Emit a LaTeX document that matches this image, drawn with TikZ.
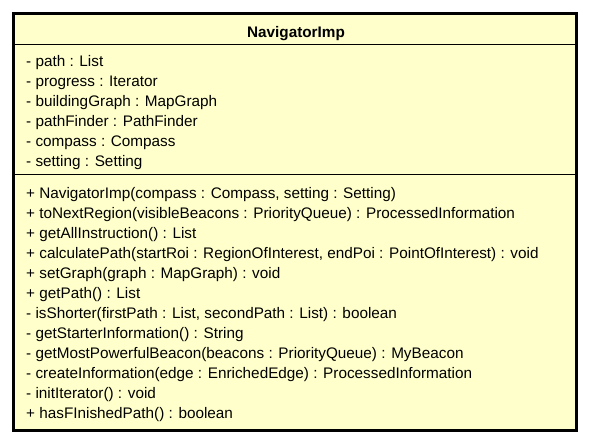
\documentclass[tikz,border=0pt]{standalone}
\usepackage{fontspec}
\setmainfont{Liberation Sans}
\definecolor{classfill}{RGB}{255,255,204}
\begin{document}
\begin{tikzpicture}[x=1pt,y=-1pt,
  member/.style={anchor=base west,inner sep=0pt,font=\fontsize{15.3}{17}\selectfont},
  title/.style={anchor=base,inner sep=0pt,font=\fontsize{15.3}{17}\selectfont\bfseries}]
\useasboundingbox (0,0) rectangle (590,445);
\fill[classfill] (13.5,13.5) rectangle (576.5,430.5);
\draw[line width=1pt] (13.5,44.5) -- (576.5,44.5);
\draw[line width=1pt] (13.5,174.5) -- (576.5,174.5);
\draw[line width=3pt] (13.5,13.5) rectangle (576.5,430.5);
\node[title] (t) at (296,37) {NavigatorImp};
\node[member] (a1) at (26,66) {- path : List};
\node[member] (a2) at (26,86) {- progress : Iterator};
\node[member] (a3) at (26,106) {- buildingGraph : MapGraph};
\node[member] (a4) at (26,126) {- pathFinder : PathFinder};
\node[member] (a5) at (26,146) {- compass : Compass};
\node[member] (a6) at (26,166) {- setting : Setting};
\node[member] (m1) at (26,198) {+ NavigatorImp(compass : Compass, setting : Setting)};
\node[member] (m2) at (26,218) {+ toNextRegion(visibleBeacons : PriorityQueue) : ProcessedInformation};
\node[member] (m3) at (26,238) {+ getAllInstruction() : List};
\node[member] (m4) at (26,258) {+ calculatePath(startRoi : RegionOfInterest, endPoi : PointOfInterest) : void};
\node[member] (m5) at (26,278) {+ setGraph(graph : MapGraph) : void};
\node[member] (m6) at (26,298) {+ getPath() : List};
\node[member] (m7) at (26,318) {- isShorter(firstPath : List, secondPath : List) : boolean};
\node[member] (m8) at (26,338) {- getStarterInformation() : String};
\node[member] (m9) at (26,358) {- getMostPowerfulBeacon(beacons : PriorityQueue) : MyBeacon};
\node[member] (m10) at (26,378) {- createInformation(edge : EnrichedEdge) : ProcessedInformation};
\node[member] (m11) at (26,398) {- initIterator() : void};
\node[member] (m12) at (26,418) {+ hasFInishedPath() : boolean};
\end{tikzpicture}
\end{document}
